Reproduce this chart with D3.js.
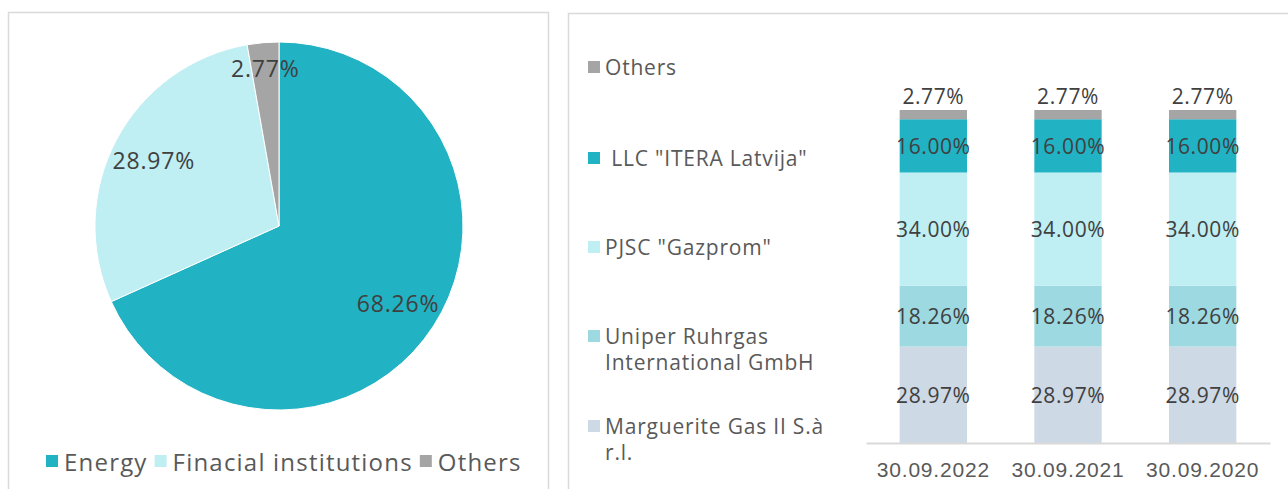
<!DOCTYPE html>
<html>
<head>
<meta charset="utf-8">
<script src="https://cdn.jsdelivr.net/npm/d3@7"></script>
<style>
  html, body { margin: 0; padding: 0; background: #fff; }
  svg { display: block; font-family: "Open Sans", sans-serif; }
  .lbl { fill: #404040; font-size: 21px; letter-spacing: 0.6px; }
  .leg { fill: #595959; font-size: 21px; letter-spacing: 0.6px; }
</style>
</head>
<body>
<div id="chart"></div>
<script>
(function () {
  "use strict";

  // ── Data ──────────────────────────────────────────
  const pieCategories = ["Energy", "Finacial institutions", "Others"];
  const pieValues = [68.26, 28.97, 2.77];
  const pieColors = ["#21b3c3", "#bfeef3", "#a5a5a5"];

  const barDates = ["30.09.2022", "30.09.2021", "30.09.2020"];
  // stacked bottom -> top
  const shareholders = [
    "Marguerite Gas II S.à r.l.",
    "Uniper Ruhrgas International GmbH",
    "PJSC \"Gazprom\"",
    " LLC \"ITERA Latvija\"",
    "Others"
  ];
  const shareValues = [
    [28.97, 28.97, 28.97],
    [18.26, 18.26, 18.26],
    [34.00, 34.00, 34.00],
    [16.00, 16.00, 16.00],
    [2.77, 2.77, 2.77]
  ];
  const shareColors = ["#cdd9e4", "#9dd9e0", "#bfeef3", "#21b3c3", "#a5a5a5"];
  // legend lines (wrapped like the original), top -> bottom
  const legendLines = [
    ["Others"],
    [" LLC \"ITERA Latvija\""],
    ["PJSC \"Gazprom\""],
    ["Uniper Ruhrgas", "International GmbH"],
    ["Marguerite Gas II S.à", "r.l."]
  ];

  const W = 1288, H = 489;
  const fmt = d3.format(".2f");

  const svg = d3.select("#chart").append("svg")
    .attr("width", W).attr("height", H);

  // ── Panels ────────────────────────────────────────
  svg.append("rect").attr("x", 8.5).attr("y", 12.5).attr("width", 540).attr("height", 500)
    .attr("fill", "none").attr("stroke", "#d9d9d9").attr("stroke-width", 1.5);
  svg.append("rect").attr("x", 568.5).attr("y", 13.5).attr("width", 730).attr("height", 500)
    .attr("fill", "none").attr("stroke", "#d9d9d9").attr("stroke-width", 1.5);

  // ── Pie ───────────────────────────────────────────
  const cx = 279, cy = 226, R = 184;
  const pie = d3.pie().sort(null).value(d => d.v);
  const arcs = pie(pieValues.map((v, i) => ({ v, name: pieCategories[i], color: pieColors[i] })));
  const arc = d3.arc().innerRadius(0).outerRadius(R);
  const gPie = svg.append("g").attr("transform", `translate(${cx},${cy})`);

  gPie.selectAll("path").data(arcs).join("path")
    .attr("d", arc)
    .attr("fill", d => d.data.color)
    .attr("stroke", "#fff").attr("stroke-width", 1);

  gPie.selectAll("text").data(arcs).join("text")
    .attr("class", "lbl")
    .style("font-size", "23px").style("letter-spacing", "0.8px")
    .attr("text-anchor", "middle")
    .attr("dominant-baseline", "central")
    .attr("transform", d => {
      const small = d.data.v < 5;
      const lr = small ? R * 0.86 : R * 0.77;
      const a = (d.startAngle + d.endAngle) / 2;
      return `translate(${Math.sin(a) * lr},${-Math.cos(a) * lr})`;
    })
    .text(d => fmt(d.data.v) + "%");

  // pie legend
  const gPL = svg.append("g").attr("transform", "translate(46,461)");
  let px = 0;
  pieCategories.forEach((name, i) => {
    const g = gPL.append("g").attr("transform", `translate(${px},0)`);
    g.append("rect").attr("x", 0).attr("y", -6).attr("width", 12).attr("height", 12)
      .attr("fill", pieColors[i]);
    const t = g.append("text").attr("class", "leg").attr("x", 18)
      .attr("dominant-baseline", "central")
      .style("font-size", "24px").style("letter-spacing", "1.2px").text(name);
    px += 18 + t.node().getComputedTextLength() + 7;
  });

  // ── Stacked bars ──────────────────────────────────
  const x = d3.scaleBand().domain(barDates).range([866, 1270])
    .paddingInner(0.5).paddingOuter(0.25);
  const y = d3.scaleLinear().domain([0, 100]).range([443, 110]);

  const rows = barDates.map((d, j) => {
    const o = { date: d };
    shareholders.forEach((s, i) => { o[s] = shareValues[i][j]; });
    return o;
  });
  const series = d3.stack().keys(shareholders)(rows);

  const gBars = svg.append("g");
  series.forEach((s, i) => {
    gBars.selectAll(null).data(s).join("rect")
      .attr("x", d => x(d.data.date))
      .attr("width", x.bandwidth())
      .attr("y", d => y(d[1]))
      .attr("height", d => y(d[0]) - y(d[1]))
      .attr("fill", shareColors[i]);

    const top = i === series.length - 1;
    gBars.selectAll(null).data(s).join("text")
      .attr("class", "lbl")
      .attr("text-anchor", "middle")
      .attr("dominant-baseline", "central")
      .attr("x", d => x(d.data.date) + x.bandwidth() / 2)
      .attr("y", d => top ? y(d[1]) - 14 : (y(d[0]) + y(d[1])) / 2)
      .text(d => fmt(d[1] - d[0]) + "%");
  });

  // axis
  const gAx = svg.append("g").attr("transform", "translate(0,443)")
    .call(d3.axisBottom(x).tickSize(0).tickPadding(19));
  gAx.select(".domain").attr("stroke", "#d9d9d9").attr("stroke-width", 2);
  gAx.selectAll("text").attr("class", "leg").attr("font-family", null)
    .attr("font-size", null).style("font-size", "21px").style("letter-spacing", "0.8px");

  // right legend
  const legY = [67, 158, 247, 336, 426];
  const gRL = svg.append("g");
  legendLines.forEach((lines, k) => {
    const col = shareColors[shareholders.length - 1 - k];
    gRL.append("rect").attr("x", 588).attr("y", legY[k] - 6).attr("width", 12).attr("height", 12)
      .attr("fill", col);
    const t = gRL.append("text").attr("class", "leg").attr("x", 605)
      .attr("y", legY[k]).attr("dominant-baseline", "central").attr("xml:space", "preserve")
      .style("letter-spacing", "0.8px");
    lines.forEach((ln, m) => {
      t.append("tspan").attr("x", 605).attr("dy", m === 0 ? 0 : 26).text(ln);
    });
  });
})();
</script>
</body>
</html>
